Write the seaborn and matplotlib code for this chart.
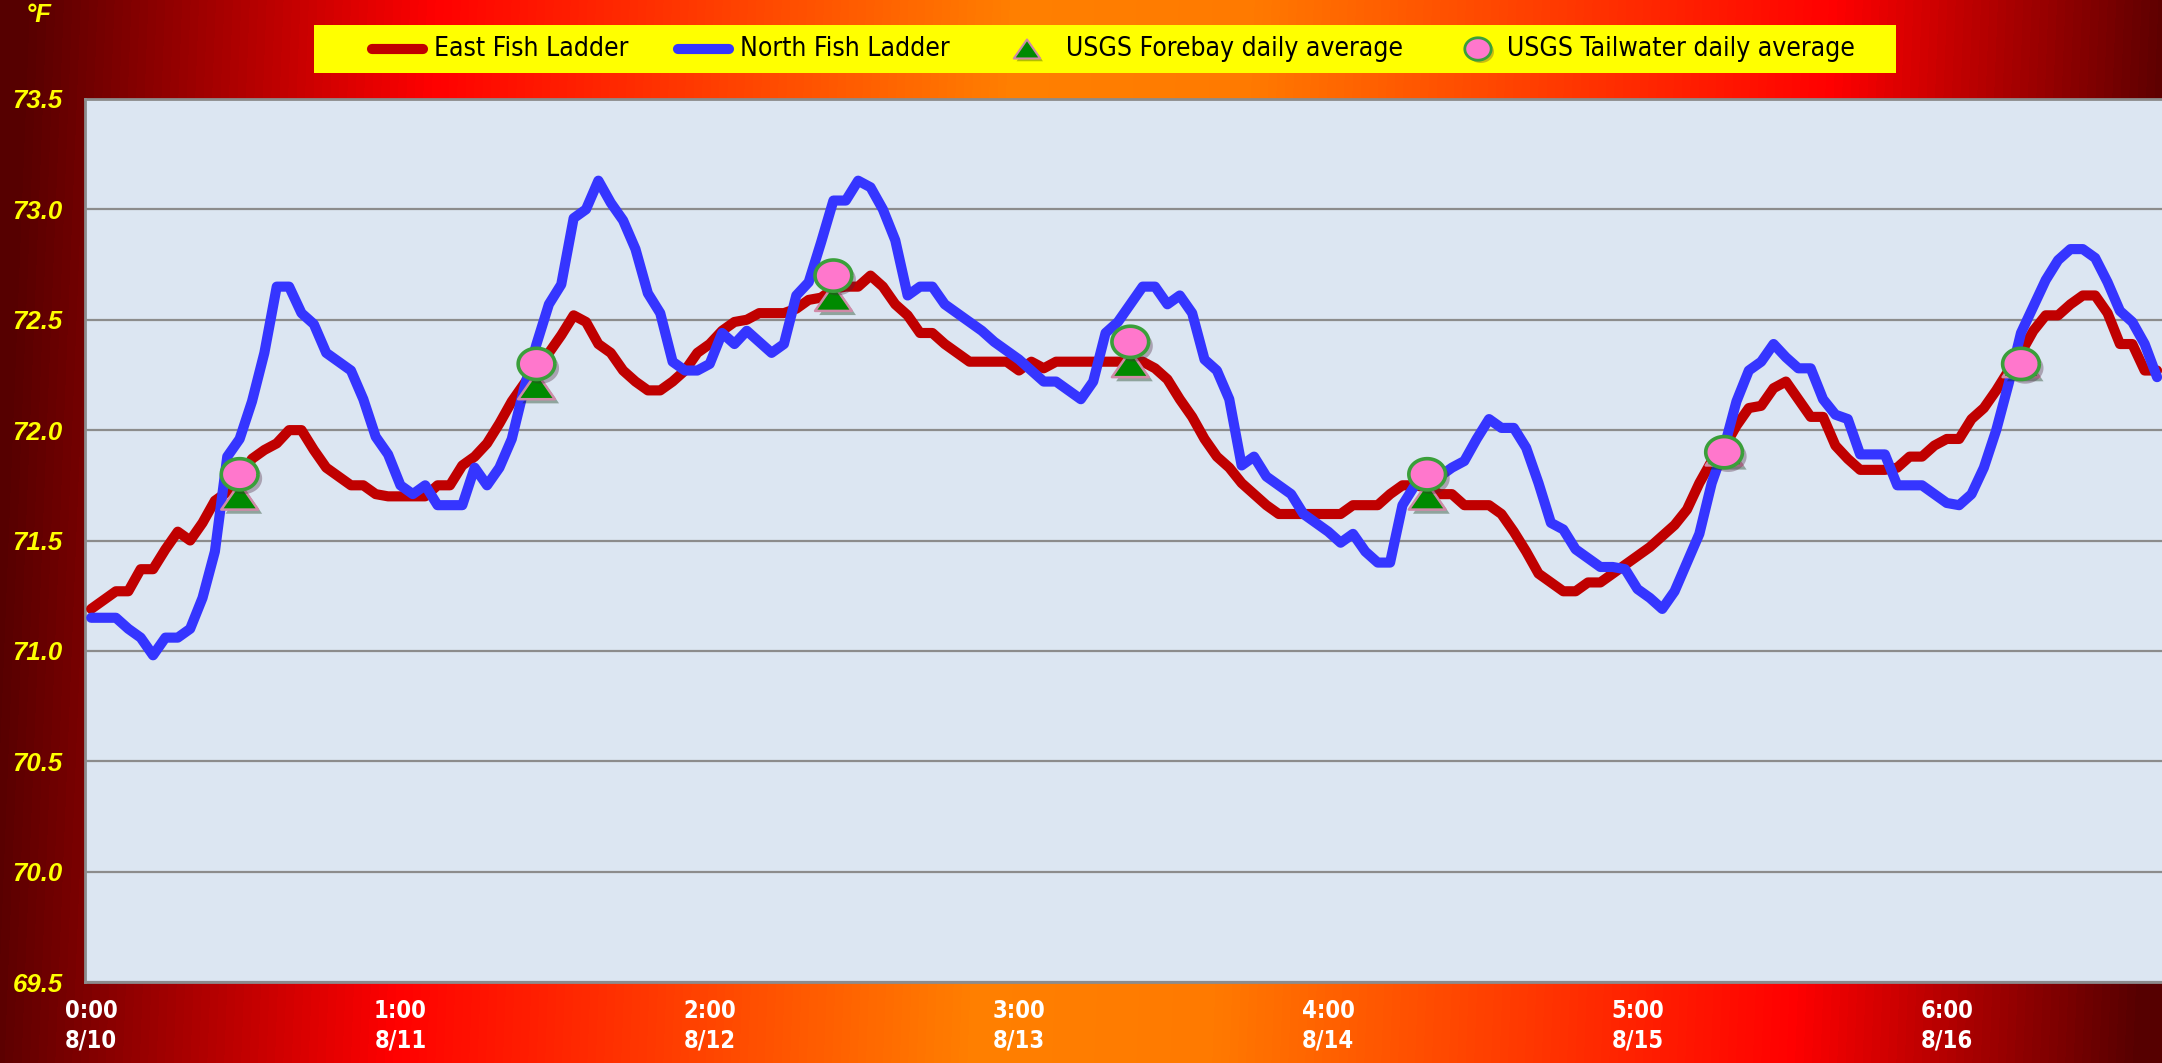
import numpy as np
import pandas as pd
import matplotlib
matplotlib.use("Agg")
import matplotlib.pyplot as plt
import matplotlib.font_manager as fm
from matplotlib.font_manager import FontProperties
from matplotlib.colors import LinearSegmentedColormap
from matplotlib.lines import Line2D
from matplotlib.patches import Rectangle
from matplotlib.path import Path
from matplotlib.markers import MarkerStyle
import matplotlib.patheffects as pe
import seaborn as sns

# ---------------- data ----------------
east_fish_ladder = [
    71.19, 71.23, 71.27, 71.27, 71.37, 71.37, 71.46, 71.54, 71.50, 71.58,
    71.68, 71.72, 71.78, 71.87, 71.91, 71.94, 72.00, 72.00, 71.91, 71.83,
    71.79, 71.75, 71.75, 71.71, 71.70, 71.70, 71.70, 71.70, 71.75, 71.75,
    71.84, 71.88, 71.94, 72.03, 72.13, 72.21, 72.29, 72.35, 72.43, 72.52,
    72.49, 72.39, 72.35, 72.27, 72.22, 72.18, 72.18, 72.22, 72.27, 72.35,
    72.39, 72.45, 72.49, 72.50, 72.53, 72.53, 72.53, 72.55, 72.59, 72.60,
    72.64, 72.65, 72.65, 72.70, 72.65, 72.57, 72.52, 72.44, 72.44, 72.39,
    72.35, 72.31, 72.31, 72.31, 72.31, 72.27, 72.31, 72.28, 72.31, 72.31,
    72.31, 72.31, 72.31, 72.31, 72.31, 72.31, 72.28, 72.23, 72.14, 72.06,
    71.96, 71.88, 71.83, 71.76, 71.71, 71.66, 71.62, 71.62, 71.62, 71.62,
    71.62, 71.62, 71.66, 71.66, 71.66, 71.71, 71.75, 71.75, 71.74, 71.71,
    71.71, 71.66, 71.66, 71.66, 71.62, 71.54, 71.45, 71.35, 71.31, 71.27,
    71.27, 71.31, 71.31, 71.35, 71.39, 71.43, 71.47, 71.52, 71.57, 71.64,
    71.76, 71.86, 71.92, 72.02, 72.10, 72.11, 72.19, 72.22, 72.14, 72.06,
    72.06, 71.93, 71.87, 71.82, 71.82, 71.82, 71.83, 71.88, 71.88, 71.93,
    71.96, 71.96, 72.05, 72.10, 72.18, 72.27, 72.35, 72.45, 72.52, 72.52,
    72.57, 72.61, 72.61, 72.53, 72.39, 72.39, 72.27, 72.27,
]
north_fish_ladder = [
    71.15, 71.15, 71.15, 71.10, 71.06, 70.98, 71.06, 71.06, 71.10, 71.24,
    71.45, 71.88, 71.96, 72.13, 72.35, 72.65, 72.65, 72.53, 72.48, 72.35,
    72.31, 72.27, 72.14, 71.97, 71.89, 71.75, 71.71, 71.75, 71.66, 71.66,
    71.66, 71.83, 71.75, 71.83, 71.96, 72.19, 72.39, 72.57, 72.66, 72.96,
    73.00, 73.13, 73.03, 72.95, 72.82, 72.62, 72.53, 72.31, 72.27, 72.27,
    72.30, 72.44, 72.39, 72.45, 72.40, 72.35, 72.39, 72.61, 72.67, 72.85,
    73.04, 73.04, 73.13, 73.10, 73.00, 72.86, 72.61, 72.65, 72.65, 72.57,
    72.53, 72.49, 72.45, 72.40, 72.36, 72.32, 72.27, 72.22, 72.22, 72.18,
    72.14, 72.22, 72.44, 72.49, 72.57, 72.65, 72.65, 72.57, 72.61, 72.53,
    72.32, 72.27, 72.14, 71.84, 71.88, 71.79, 71.75, 71.71, 71.62, 71.58,
    71.54, 71.49, 71.53, 71.45, 71.40, 71.40, 71.66, 71.75, 71.77, 71.79,
    71.83, 71.86, 71.96, 72.05, 72.01, 72.01, 71.92, 71.76, 71.58, 71.55,
    71.46, 71.42, 71.38, 71.38, 71.37, 71.28, 71.24, 71.19, 71.27, 71.40,
    71.53, 71.76, 71.92, 72.13, 72.27, 72.31, 72.39, 72.33, 72.28, 72.28,
    72.14, 72.07, 72.05, 71.89, 71.89, 71.89, 71.75, 71.75, 71.75, 71.71,
    71.67, 71.66, 71.71, 71.83, 72.00, 72.21, 72.44, 72.56, 72.68, 72.77,
    72.82, 72.82, 72.78, 72.67, 72.54, 72.49, 72.39, 72.24,
]
# daily averages, plotted at noon of each day (hour index)
daily_hour_index = [12, 36, 60, 84, 108, 132, 156]
usgs_forebay = [71.7, 72.2, 72.6, 72.3, 71.7, 71.9, 72.3]
usgs_tailwater = [71.8, 72.3, 72.7, 72.4, 71.8, 71.9, 72.3]

tick_index = [0, 25, 50, 75, 100, 125, 150]
tick_hours = ["0:00", "1:00", "2:00", "3:00", "4:00", "5:00", "6:00"]
tick_dates = ["8/10", "8/11", "8/12", "8/13", "8/14", "8/15", "8/16"]
y_ticks = [69.5, 70.0, 70.5, 71.0, 71.5, 72.0, 72.5, 73.0, 73.5]

series_labels = ["East Fish Ladder", "North Fish Ladder",
                 "USGS Forebay daily average", "USGS Tailwater daily average"]

# ---------------- fonts ----------------
sns.set_theme(style="white")
plt.rcParams["font.family"] = ["Liberation Sans", "DejaVu Sans"]


def find_narrow(bold):
    want = "bold" if bold else "normal"
    for f in fm.fontManager.ttflist:
        if f.name == "Liberation Sans Narrow" and f.style == "normal":
            if (f.weight in (700, "bold")) == bold:
                return FontProperties(fname=f.fname)
    for f in fm.fontManager.ttflist:
        if f.name == "DejaVu Sans" and "ondensed" in f.fname and f.style == "normal":
            if ("Bold" in f.fname) == bold:
                return FontProperties(fname=f.fname)
    return FontProperties(family="Liberation Sans", weight=want)


xfont = find_narrow(True)
legfont = find_narrow(False)

W, H = 2162, 1063
fig = plt.figure(figsize=(W / 100, H / 100), dpi=100)

# ---------------- background gradient ----------------
bg = fig.add_axes([0, 0, 1, 1], zorder=-10)
xx, yy = np.meshgrid(np.arange(W), np.arange(H))
t = (xx + 0.04 * (yy - H / 2)) / W
cmap = LinearSegmentedColormap.from_list(
    "fire",
    [(0.0, "#560000"), (0.19, "#ff0000"), (0.46, "#ff8000"), (0.57, "#ff7a00"),
     (0.84, "#ff0000"), (1.0, "#560000")])
bg.imshow(cmap(np.clip(t, 0, 1)), aspect="auto", extent=[0, 1, 0, 1],
          interpolation="bilinear")
bg.set_axis_off()

# ---------------- plot area ----------------
ax = fig.add_axes([85 / W, 81 / H, 2077 / W, 883 / H], zorder=1)
ax.set_facecolor("#DCE6F2")

df = pd.DataFrame({"hour": np.arange(len(east_fish_ladder)),
                   "East": east_fish_ladder, "North": north_fish_ladder})
davg = pd.DataFrame({"hour": daily_hour_index, "Forebay": usgs_forebay,
                     "Tailwater": usgs_tailwater})

lw = 7.3
red, blue = "#C00000", "#3535FF"
sns.lineplot(data=df, x="hour", y="East", ax=ax, color=red, lw=lw,
             solid_joinstyle="round", solid_capstyle="round", zorder=3,
             errorbar=None, sort=False)
sns.lineplot(data=df, x="hour", y="North", ax=ax, color=blue, lw=lw,
             solid_joinstyle="round", solid_capstyle="round", zorder=4,
             errorbar=None, sort=False)

tri = MarkerStyle(Path([(-1, -0.72), (1, -0.72), (0, 0.72), (-1, -0.72)],
                       [Path.MOVETO, Path.LINETO, Path.LINETO, Path.CLOSEPOLY]))
th = np.linspace(0, 2 * np.pi, 60)
ell = MarkerStyle(Path(np.column_stack([np.cos(th), 0.85 * np.sin(th)])))

tri_face, tri_edge = "#008A00", "#D08AA8"
ell_face, ell_edge = "#FF77CC", "#3A9F3A"
shadow = [pe.SimplePatchShadow(offset=(3, -3), alpha=0.35), pe.Normal()]
sns.scatterplot(data=davg, x="hour", y="Forebay", ax=ax, marker=tri, s=700,
                color=tri_face, edgecolor=tri_edge, linewidth=1.8, zorder=5)
ax.collections[-1].set_path_effects(shadow)
sns.scatterplot(data=davg, x="hour", y="Tailwater", ax=ax, marker=ell, s=700,
                color=ell_face, edgecolor=ell_edge, linewidth=2.6, zorder=6)
ax.collections[-1].set_path_effects(shadow)

ax.set_xlim(-0.5, 167.4)
ax.set_ylim(69.5, 73.5)
ax.set_yticks(y_ticks)
ax.set_yticklabels([f"{v:.1f}" for v in y_ticks], color="#FFFF00",
                   fontweight="bold", fontstyle="italic", fontsize=18.5,
                   family=["Liberation Sans", "DejaVu Sans"])
ax.set_xticks(tick_index)
ax.set_xticklabels([f"{h}\n{d}" for h, d in zip(tick_hours, tick_dates)])
for lab in ax.get_xticklabels():
    lab.set_fontproperties(xfont)
    lab.set_fontsize(17)
    lab.set_color("white")
    lab.set_linespacing(1.3)
ax.tick_params(axis="y", length=0, pad=16)
ax.tick_params(axis="x", length=0, pad=12)
ax.set_xlabel("")
ax.set_ylabel("")
ax.grid(axis="y", color="#8C8C8C", lw=1.6)
ax.grid(axis="x", visible=False)
ax.set_axisbelow(True)
for s in ["left", "top", "bottom"]:
    ax.spines[s].set_visible(True)
    ax.spines[s].set_color("#8C8C8C")
    ax.spines[s].set_linewidth(2)
ax.spines["right"].set_visible(False)

fig.text(39 / W, 1 - 15 / H, "°F", color="#FFFF00", fontweight="bold",
         fontstyle="italic", fontsize=18.5, ha="center", va="center",
         family=["Liberation Sans", "DejaVu Sans"])

# ---------------- legend (yellow box at top) ----------------
def fx(px):
    return px / W


def fy(py):
    return 1 - py / H


fig.add_artist(Rectangle((fx(314), fy(73)), fx(1896) - fx(314), 48 / H,
                         transform=fig.transFigure, facecolor="#FFFF00",
                         edgecolor="none", zorder=2))
ly = fy(49)
fig.add_artist(Line2D([fx(372), fx(423)], [ly, ly], transform=fig.transFigure,
                      color=red, lw=lw, solid_capstyle="round", zorder=3))
fig.add_artist(Line2D([fx(678), fx(729)], [ly, ly], transform=fig.transFigure,
                      color=blue, lw=lw, solid_capstyle="round", zorder=3))
m1 = Line2D([fx(1027)], [ly], transform=fig.transFigure, ls="none", marker=tri,
            markersize=19, markerfacecolor=tri_face, markeredgecolor=tri_edge,
            markeredgewidth=1.5, zorder=3)
m1.set_path_effects([pe.SimplePatchShadow(offset=(2, -2), alpha=0.3), pe.Normal()])
fig.add_artist(m1)
m2 = Line2D([fx(1478)], [ly], transform=fig.transFigure, ls="none", marker=ell,
            markersize=19, markerfacecolor=ell_face, markeredgecolor=ell_edge,
            markeredgewidth=2, zorder=3)
m2.set_path_effects([pe.SimplePatchShadow(offset=(2, -2), alpha=0.3), pe.Normal()])
fig.add_artist(m2)
for xpos, lab in zip([434, 740, 1066, 1507], series_labels):
    tx = fig.text(fx(xpos), ly, lab, ha="left", va="center", color="black",
                  fontproperties=legfont, zorder=4)
    tx.set_fontsize(19)

fig.savefig("out.png", dpi=100)
